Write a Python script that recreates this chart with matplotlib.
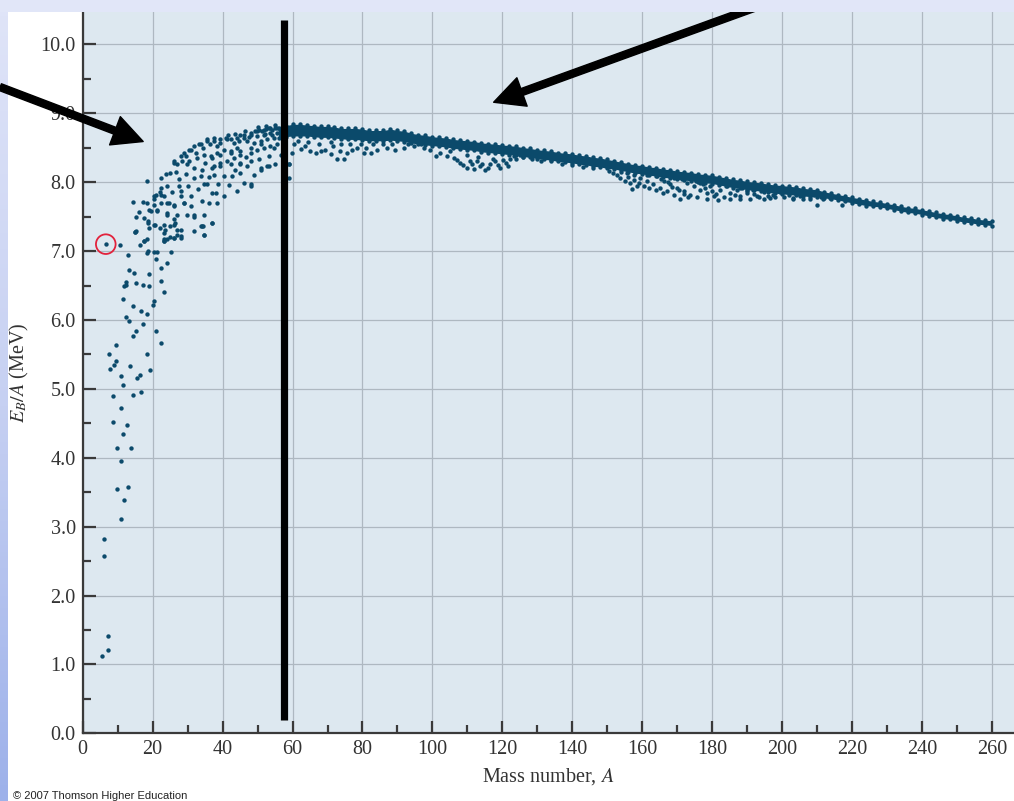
import matplotlib
matplotlib.use("Agg")
import matplotlib.pyplot as plt
from matplotlib.colors import LinearSegmentedColormap
from matplotlib.patches import Rectangle
import numpy as np

plt.rcParams['font.family'] = ['Liberation Serif', 'DejaVu Serif']
plt.rcParams['mathtext.fontset'] = 'stix'

# ---- data (A, EB/A in MeV) ----
# dense valley of stability, top and bottom edge every 2 mass units
band_a = list(range(56, 261, 2))
band_hi = [8.79, 8.82, 8.84, 8.84, 8.83, 8.82, 8.81, 8.81, 8.80, 8.78,   # 56-74
           8.78, 8.78, 8.77, 8.75, 8.75, 8.75, 8.77, 8.75, 8.74, 8.71,   # 76-94
           8.69, 8.68, 8.66, 8.65, 8.64, 8.62, 8.61, 8.60, 8.59, 8.57,   # 96-114
           8.56, 8.55, 8.54, 8.53, 8.52, 8.50, 8.49, 8.47, 8.46, 8.45,   # 116-134
           8.43, 8.42, 8.41, 8.39, 8.38, 8.36, 8.35, 8.33, 8.31, 8.29,   # 136-154
           8.27, 8.25, 8.24, 8.22, 8.21, 8.19, 8.18, 8.16, 8.15, 8.14,   # 156-174
           8.12, 8.11, 8.10, 8.08, 8.06, 8.04, 8.03, 8.01, 8.00, 7.99,   # 176-194
           7.97, 7.96, 7.95, 7.94, 7.93, 7.91, 7.90, 7.89, 7.86, 7.84,   # 196-214
           7.82, 7.80, 7.78, 7.76, 7.74, 7.72, 7.71, 7.69, 7.67, 7.65,   # 216-234
           7.63, 7.62, 7.60, 7.58, 7.56, 7.54, 7.53, 7.51, 7.49, 7.48,   # 236-254
           7.46, 7.45, 7.44]                                             # 256-260
band_lo = [8.64, 8.66, 8.67, 8.67, 8.67, 8.66, 8.65, 8.65, 8.64, 8.63,
           8.62, 8.62, 8.61, 8.60, 8.60, 8.60, 8.61, 8.60, 8.59, 8.57,
           8.55, 8.54, 8.53, 8.52, 8.51, 8.49, 8.48, 8.47, 8.46, 8.44,
           8.43, 8.42, 8.41, 8.40, 8.39, 8.37, 8.36, 8.34, 8.33, 8.32,
           8.30, 8.29, 8.28, 8.26, 8.25, 8.23, 8.22, 8.20, 8.19, 8.17,
           8.15, 8.13, 8.12, 8.10, 8.09, 8.07, 8.06, 8.04, 8.03, 8.02,
           8.00, 7.99, 7.98, 7.96, 7.94, 7.92, 7.91, 7.89, 7.88, 7.87,
           7.85, 7.84, 7.83, 7.82, 7.81, 7.80, 7.79, 7.79, 7.77, 7.76,
           7.74, 7.72, 7.70, 7.68, 7.66, 7.65, 7.64, 7.62, 7.60, 7.58,
           7.56, 7.55, 7.53, 7.51, 7.49, 7.47, 7.46, 7.44, 7.42, 7.41,
           7.39, 7.38, 7.37]

# light nuclei, scattered dots
light_pts = [(5.4, 1.12), (7.3, 1.21), (7.1, 1.41), (6.1, 2.58), (6.1, 2.82), (11.0, 3.11),
             (11.8, 3.38), (9.9, 3.54), (13.0, 3.57), (10.9, 3.95), (9.8, 4.14), (13.9, 4.14),
             (11.6, 4.35), (12.7, 4.48), (8.8, 4.52), (10.9, 4.72), (8.8, 4.90), (14.5, 4.91),
             (16.7, 4.95), (11.5, 5.06), (15.4, 5.16), (10.9, 5.19), (16.5, 5.20), (19.2, 5.28),
             (7.8, 5.29), (13.6, 5.33), (8.9, 5.35), (9.6, 5.40), (7.5, 5.51), (18.3, 5.51),
             (9.4, 5.63), (22.3, 5.66), (14.4, 5.76), (15.3, 5.84), (21.1, 5.84), (17.3, 5.94),
             (13.2, 5.98), (12.4, 6.05), (18.3, 6.09), (16.6, 6.13), (14.5, 6.20), (20.2, 6.21),
             (20.3, 6.28), (11.5, 6.30), (23.2, 6.40), (19.0, 6.49), (11.9, 6.49), (12.4, 6.51),
             (17.3, 6.51), (15.1, 6.53), (12.3, 6.55), (22.4, 6.57), (19.0, 6.67), (14.8, 6.68),
             (13.3, 6.72), (22.3, 6.76), (24.2, 6.82), (21.1, 6.88), (13.0, 6.95), (18.4, 6.97),
             (18.7, 7.00), (20.5, 6.99), (21.2, 6.98), (25.3, 6.99), (10.6, 7.09), (16.4, 7.09),
             (6.6, 7.10), (17.4, 7.14), (23.3, 7.14), (24.2, 7.18), (26.0, 7.19), (28.1, 7.22),
             (15.0, 7.28), (27.0, 7.30), (23.4, 7.30), (19.0, 7.33), (22.1, 7.34), (34.4, 7.36),
             (25.1, 7.37), (20.6, 7.38), (18.6, 7.41), (26.5, 7.41), (37.1, 7.41), (34.8, 7.23)]

# rising part of the curve, A ~ 14-58
mid_pts = [(14.4, 7.71), (17.1, 7.71), (16.1, 7.56), (15.3, 7.50), (17.5, 7.48), (14.9, 7.28),
           (17.5, 7.14), (18.5, 7.17), (18.8, 7.43), (19.0, 7.59), (20.4, 7.67), (20.9, 7.82),
           (22.3, 8.06), (23.2, 7.80), (24.7, 7.70), (23.2, 7.17), (18.3, 8.01), (22.1, 7.85),
           (20.4, 7.75), (21.3, 7.60), (22.3, 7.70), (24.2, 7.55), (26.1, 7.65), (26.1, 7.46),
           (28.0, 7.80), (29.0, 7.70), (29.9, 7.53), (31.8, 7.53), (33.7, 7.36), (34.7, 7.24),
           (37.0, 7.41), (23.2, 7.26), (25.1, 7.21), (27.0, 7.24), (15.1, 7.29),
           (23.7, 8.12), (25.1, 8.13), (26.6, 8.15), (26.1, 8.28), (27.0, 8.26), (28.5, 8.30),
           (29.4, 8.38), (30.4, 8.47), (31.8, 8.52), (33.2, 8.55), (35.6, 8.62), (37.5, 8.60),
           (39.4, 8.62), (40.9, 8.64), (42.3, 8.63), (44.2, 8.64), (46.1, 8.69), (48.0, 8.68),
           (49.9, 8.74), (51.8, 8.76), (53.7, 8.79), (55.6, 8.79),
           (22.3, 7.92), (24.2, 7.94), (28.0, 7.87), (30.9, 7.80), (34.7, 7.97), (35.6, 7.97),
           (38.0, 7.84), (40.4, 7.80), (44.2, 7.87), (48.0, 7.94), (31.8, 8.06), (33.7, 8.09),
           (37.5, 8.11), (40.4, 8.09), (42.8, 8.09), (45.1, 8.13), (46.1, 7.99), (48.9, 8.11),
           (50.9, 8.21), (52.8, 8.23), (55.1, 8.26), (53.2, 8.38), (50.4, 8.33), (48.0, 8.30),
           (45.1, 8.28), (42.3, 8.26), (39.4, 8.23), (37.0, 8.21), (34.2, 8.18), (31.8, 8.21),
           (29.9, 8.26), (37.0, 8.35), (39.4, 8.40), (42.3, 8.43), (45.1, 8.45), (48.0, 8.50),
           (50.9, 8.55), (34.7, 8.40), (32.8, 8.35), (56.6, 8.40), (54.7, 8.50), (58.9, 8.26),
           (58.9, 8.06), (18.5, 7.70), (20.4, 7.80), (22.3, 7.82), (19.4, 7.58), (21.3, 7.58),
           (24.2, 7.70), (26.1, 7.67), (29.0, 7.70), (30.9, 7.65), (34.2, 7.72), (36.1, 7.70),
           (38.5, 7.70), (37.0, 7.84), (24.2, 7.53), (27.0, 7.53), (31.8, 7.50), (34.7, 7.53),
           (20.4, 7.38), (23.2, 7.38), (26.1, 7.38), (28.0, 7.31), (31.8, 7.29), (34.2, 7.36),
           (23.2, 7.14), (26.1, 7.19), (28.0, 7.19),
           (45.1, 8.69), (46.1, 8.64), (47.0, 8.60), (48.0, 8.72), (49.4, 8.74), (50.4, 8.76),
           (51.3, 8.74), (52.3, 8.77), (53.2, 8.79), (54.2, 8.76), (55.1, 8.79), (49.9, 8.67),
           (51.8, 8.69), (53.7, 8.72), (55.6, 8.72), (48.9, 8.57), (50.9, 8.60), (52.8, 8.62),
           (54.7, 8.64), (49.9, 8.47), (51.8, 8.50), (53.7, 8.52), (55.6, 8.55), (48.0, 8.43),
           (45.1, 8.40), (43.2, 8.57), (41.3, 8.62), (39.4, 8.57), (37.5, 8.64), (35.6, 8.60),
           (33.7, 8.55), (30.9, 8.47), (29.0, 8.43), (28.0, 8.38), (26.1, 8.30), (40.4, 8.47),
           (42.3, 8.45), (38.5, 8.43), (36.6, 8.38), (43.2, 8.35), (41.3, 8.30), (39.4, 8.28),
           (37.5, 8.23), (45.1, 8.26), (47.0, 8.23), (48.0, 7.97), (50.9, 8.18), (53.2, 8.23),
           (41.5, 8.68), (43.5, 8.70), (44.8, 8.60), (46.5, 8.74), (47.5, 8.66), (52.0, 8.70),
           (54.0, 8.68), (56.5, 8.76), (57.0, 8.70), (50.0, 8.80), (52.5, 8.82), (55.0, 8.83),
           (27.5, 8.05), (29.5, 8.12), (30.5, 8.30), (32.5, 8.42), (34.5, 8.50), (36.5, 8.55),
           (38.5, 8.52), (36.0, 8.08), (38.8, 7.98), (41.8, 7.96), (43.5, 8.18), (46.8, 8.36),
           (44.0, 8.50), (35.0, 8.28), (33.0, 7.90), (27.5, 7.95), (25.5, 7.85), (30.0, 7.95)]

# loose dots and streaks under the dense band
streak_pts = [(58.9, 8.27), (59.9, 8.43), (60.4, 8.55), (62.3, 8.48), (63.7, 8.52), (65.1, 8.45),
              (66.6, 8.43), (68.0, 8.45), (69.4, 8.47), (70.9, 8.41), (72.8, 8.34), (74.7, 8.34),
              (75.6, 8.42), (77.1, 8.47), (78.5, 8.50), (80.4, 8.43), (82.3, 8.42), (84.2, 8.47),
              (87.1, 8.50), (89.4, 8.47), (91.8, 8.50), (94.7, 8.52), (96.6, 8.55), (99.4, 8.47),
              (61.5, 8.60), (64.5, 8.58), (67.5, 8.55), (71.5, 8.52), (73.5, 8.45), (76.5, 8.55),
              (79.5, 8.55), (83.0, 8.55), (86.0, 8.56), (88.5, 8.56), (93.0, 8.56), (97.5, 8.50),
              (71.0, 8.58), (81.0, 8.50), (74.0, 8.56),
              (100.9, 8.38), (102.3, 8.43), (104.2, 8.38), (106.1, 8.35), (108.0, 8.28),
              (109.9, 8.21), (111.3, 8.26), (112.8, 8.30), (113.7, 8.23), (115.1, 8.18),
              (116.6, 8.26), (118.0, 8.30), (119.4, 8.21), (120.9, 8.28), (122.3, 8.33),
              (123.2, 8.38), (125.1, 8.40), (107.0, 8.32), (108.8, 8.25), (110.8, 8.30),
              (112.0, 8.19), (114.3, 8.27), (116.0, 8.21), (117.3, 8.34), (118.8, 8.25),
              (120.2, 8.32), (121.6, 8.24), (124.0, 8.33), (126.0, 8.36), (113.0, 8.36),
              (110.0, 8.40), (105.0, 8.45),
              (128.5, 8.33), (131.0, 8.31), (134.0, 8.30), (137.0, 8.27), (140.0, 8.25),
              (143.0, 8.22), (146.0, 8.20),
              (152.8, 8.11), (153.7, 8.06), (155.1, 8.02), (156.6, 7.99), (158.5, 7.94),
              (155.6, 8.14), (157.5, 8.11), (159.4, 8.06), (161.3, 8.02), (163.2, 7.97),
              (165.1, 7.92), (167.0, 7.87), (169.0, 7.82), (170.9, 7.76), (161.3, 8.11),
              (164.2, 8.09), (166.1, 8.02), (168.0, 7.97), (169.9, 7.92), (171.8, 7.87),
              (173.7, 7.82), (175.6, 7.78), (169.0, 8.06), (171.3, 8.04), (172.8, 7.99),
              (174.7, 7.94), (176.6, 7.89), (178.5, 7.84), (180.4, 7.80), (181.8, 7.74),
              (176.6, 7.99), (179.4, 7.94), (182.3, 7.89), (185.1, 7.84), (188.0, 7.80),
              (190.9, 7.75), (184.2, 7.94), (187.0, 7.89), (189.9, 7.84), (192.8, 7.80),
              (194.7, 7.76), (191.8, 7.89), (194.7, 7.85), (197.5, 7.82), (200.4, 7.79),
              (203.2, 7.77), (198.5, 7.89), (201.3, 7.87), (204.2, 7.83), (196.6, 7.77),
              (203.2, 7.75), (206.1, 7.76), (209.9, 7.67), (208.0, 7.75), (211.8, 7.75),
              (213.7, 7.77), (217.0, 7.67),
              (150.5, 8.16), (151.5, 8.13), (154.0, 8.15), (156.0, 8.08), (157.5, 8.03),
              (159.0, 7.99), (160.5, 7.95), (162.0, 7.91), (163.5, 8.14), (165.5, 8.05),
              (167.5, 8.00), (168.5, 7.93), (170.5, 7.89), (172.0, 7.83), (173.0, 7.79),
              (174.0, 8.07), (175.5, 8.02), (177.5, 7.97), (178.0, 7.92), (180.0, 7.87),
              (181.0, 7.83), (183.5, 7.78), (185.0, 7.75), (182.5, 7.99), (186.0, 7.96),
              (188.5, 7.92), (190.0, 7.87), (192.0, 7.83), (193.5, 7.79), (196.0, 7.80),
              (198.0, 7.78), (199.5, 7.85), (202.0, 7.84), (205.0, 7.80), (207.0, 7.84),
              (209.0, 7.81), (211.0, 7.79), (186.5, 7.82), (195.5, 7.92), (188.0, 7.76),
              (178.5, 7.76), (166.0, 7.84), (164.0, 7.88), (157.0, 7.90)]

x_ticks = list(range(0, 261, 20))
y_ticks = [0.0, 1.0, 2.0, 3.0, 4.0, 5.0, 6.0, 7.0, 8.0, 9.0, 10.0]

# annotations drawn on top of the chart
mark_a = 57.6                      # thick vertical marker
mark_span = (0.19, 10.35)
circle_at = (6.6, 7.10)
arrow_left = ((-23.6, 9.38), (17.3, 8.59))     # (tail, tip)
arrow_right = ((198.0, 10.64), (117.5, 9.16))

DOT = '#0b4a6b'

fig = plt.figure(figsize=(10.14, 8.01), dpi=100, facecolor='white')

# slide decoration: lavender top strip, blue gradient on the left edge
fig.patches.append(Rectangle((0, 1 - 12 / 801), 1, 12 / 801, transform=fig.transFigure,
                             facecolor='#e1e6f8', edgecolor='none', zorder=0))
strip = fig.add_axes([0, 0, 8 / 1014, 1 - 12 / 801])
strip.imshow(np.linspace(0, 1, 200).reshape(-1, 1), aspect='auto',
             cmap=LinearSegmentedColormap.from_list('s', ['#dfe4f8', '#c6d0f2', '#9db1ea']))
strip.axis('off')

ax = fig.add_axes([82.7 / 1014, (801 - 733.3) / 801, (1014 - 82.7) / 1014, (733.3 - 12) / 801])
ax.set_facecolor('#dde8f0')
ax.set_xlim(0, 266.3)
ax.set_ylim(0, 10.47)

ax.fill_between(band_a, band_lo, band_hi, color=DOT, linewidth=0, zorder=3)
ax.scatter(band_a, band_hi, s=10, color=DOT, linewidths=0, zorder=3)
ax.scatter(band_a, band_lo, s=10, color=DOT, linewidths=0, zorder=3)
for pts in (light_pts, mid_pts, streak_pts):
    a, e = zip(*pts)
    ax.scatter(a, e, s=10, color=DOT, linewidths=0, zorder=3)

ax.plot([mark_a, mark_a], mark_span, color='black', lw=5.2, solid_capstyle='butt', zorder=5)
ax.scatter([circle_at[0]], [circle_at[1]], s=200, facecolors='none', edgecolors='#e2223c',
           linewidths=1.3, zorder=6)
for tail, tip in (arrow_left, arrow_right):
    ax.annotate('', xy=tip, xytext=tail, annotation_clip=False, zorder=7,
                arrowprops=dict(arrowstyle='simple,head_length=1.45,head_width=1.45,tail_width=0.34',
                                mutation_scale=15, color='black', shrinkA=0, shrinkB=0))

ax.set_xticks(x_ticks)
ax.set_xticks(list(range(10, 261, 20)), minor=True)
ax.set_yticks(y_ticks)
ax.set_yticklabels(['%.1f' % v for v in y_ticks])
ax.set_yticks([v + 0.5 for v in y_ticks[:-1]], minor=True)
ax.tick_params(which='major', direction='in', length=9, width=1.6, color='#3a3a3a',
               labelsize=14.5, labelcolor='#333333', pad=5)
ax.tick_params(which='minor', direction='in', length=5.5, width=1.6, color='#3a3a3a')
for s in ('top', 'right'):
    ax.spines[s].set_visible(False)
for s in ('left', 'bottom'):
    ax.spines[s].set_color('#3a3a3a')
    ax.spines[s].set_linewidth(1.6)
ax.grid(which='major', color='#aeb8c1', lw=0.9)
ax.set_axisbelow(True)

ax.set_xlabel('Mass number, $A$', fontsize=14.5, color='#333333')
ax.xaxis.set_label_coords(0.5, -0.045)
ax.set_ylabel('$E_B/A$ (MeV)', fontsize=14.5, color='#333333')
ax.yaxis.set_label_coords(-0.056, 0.5)

fig.text(13 / 1014, 1 - 796 / 801, '\u00a9 2007 Thomson Higher Education', fontsize=8,
         family=['Liberation Sans', 'DejaVu Sans'], va='center', ha='left', color='#222222')

fig.savefig('out.png', dpi=100)
